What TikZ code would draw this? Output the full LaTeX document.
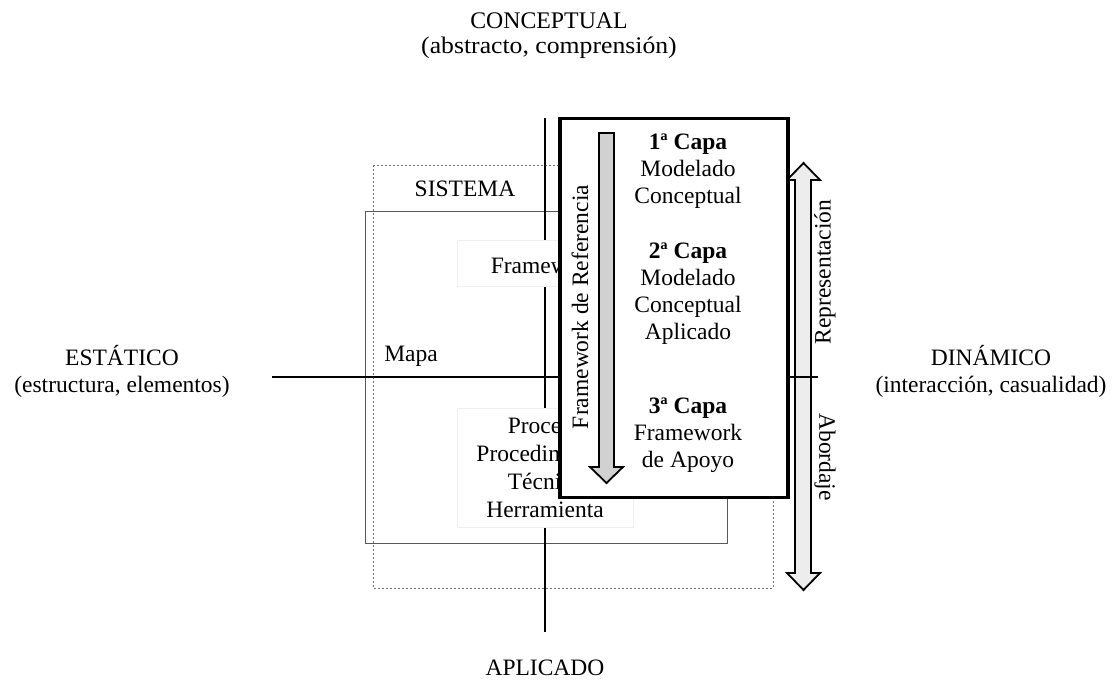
\documentclass[tikz,border=0pt]{standalone}
\usepackage{fontspec}
\setmainfont{Liberation Serif}
\usepackage{graphicx}
\begin{document}
\begin{tikzpicture}[x=1pt,y=-1pt,
  txt/.style={inner sep=0pt,align=center,font=\fontsize{23.5}{27}\selectfont},
  axis/.style={line width=1.6pt,black},
  faintbox/.style={draw=black!6,fill=white,line width=0.6pt},
  bigbox/.style={draw=black,fill=white,line width=3.2pt},
  arrowshape/.style={draw=black,line width=1.8pt,line join=miter}]
\useasboundingbox (0,0) rectangle (1114,689);

% outer dotted and inner rectangles
\draw[black!55,line width=0.8pt,dash pattern=on 2pt off 2pt] (373,165) rectangle (773,588);
\draw[black!65,line width=0.8pt] (365,211) rectangle (727,543);

% double arrow (Representación / Abordaje)
\fill[black!7] (795,180) -- (787,180) -- (803.5,163) -- (820,180) -- (811,180) -- (811,573) -- (820,573) -- (803.5,590) -- (787,573) -- (795,573) -- cycle;
\draw[arrowshape] (795,180) -- (787,180) -- (803.5,163) -- (820,180) -- (811,180) -- (811,573) -- (820,573) -- (803.5,590) -- (787,573) -- (795,573) -- cycle;

% axes
\coordinate (ntop) at (545,118);
\coordinate (nbot) at (545,632);
\coordinate (wl) at (272,377);
\coordinate (er) at (818,377);
\draw[axis] (ntop) -- (nbot);
\draw[axis] (wl) -- (er);

% faint boxes
\node[faintbox,minimum width=176pt,minimum height=46pt,inner sep=0pt] (fwbox) at (545,263) {};
\node[txt] (fw) at (545,265) {Framework};
\node[faintbox,minimum width=176pt,minimum height=119pt,inner sep=0pt] (prbox) at (545,467.5) {};
\node[txt,font=\fontsize{23.5}{28}\selectfont] (pr) at (545,468) {Proceso\\Procedimiento\\Técnica\\Herramienta};

\node[txt] (sis) at (465,189) {SISTEMA};
\node[txt] (mapa) at (411,356) {Mapa};

% big box
\node[bigbox,minimum width=228pt,minimum height=379pt,inner sep=0pt] (big) at (674,308) {};

% gray down arrow
\draw[arrowshape,fill=black!18] (599,133) -- (614,133) -- (614,467) -- (623,467) -- (606.5,483) -- (590,467) -- (599,467) -- cycle;

\node[txt,rotate=90] (fdr) at (580,307) {Framework de Referencia};

\node[txt] (c1) at (688,171) {\textbf{1ª Capa}\\Modelado\\Conceptual};
\node[txt] (c2) at (688,294) {\textbf{2ª Capa}\\Modelado\\Conceptual\\Aplicado};
\node[txt] (c3) at (688,435) {\textbf{3ª Capa}\\Framework\\de Apoyo};

\node[txt,rotate=90] (rep) at (825,272) {Representación};
\node[txt,rotate=-90] (abo) at (825,457) {Abordaje};

% axis labels
\node[txt,font=\fontsize{23.8}{25}\selectfont] (conc) at (549,36) {CONCEPTUAL\\\scalebox{1.08}[1]{(abstracto, comprensión)}};
\node[txt] (apl) at (545,668) {APLICADO};
\node[txt] (est) at (122,371) {ESTÁTICO\\(estructura, elementos)};
\node[txt] (din) at (991,371) {DINÁMICO\\(interacción, casualidad)};
\end{tikzpicture}
\end{document}
